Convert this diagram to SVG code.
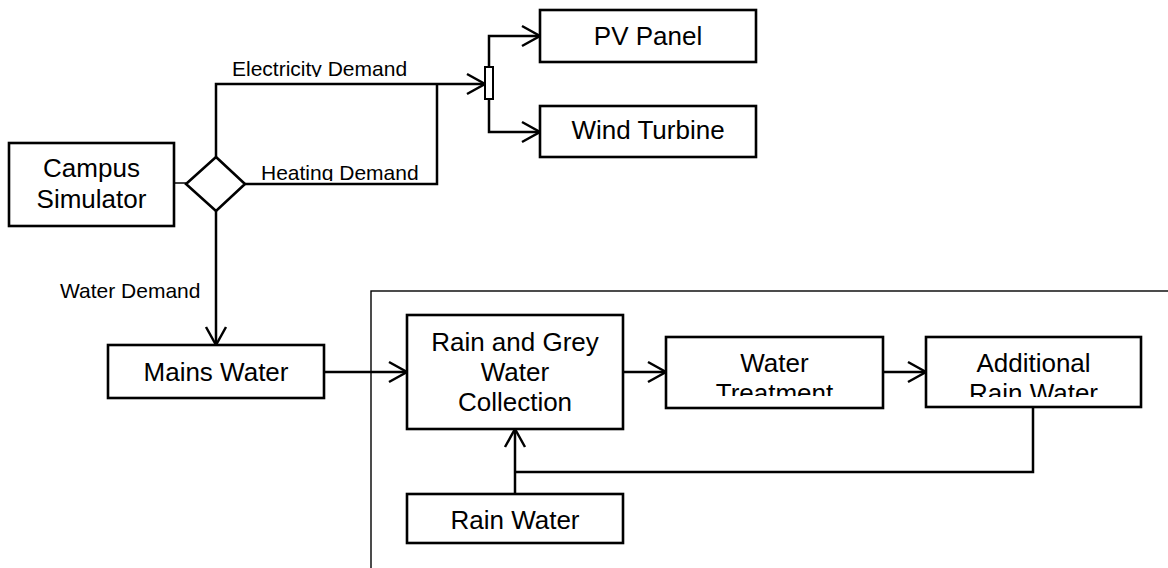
<svg xmlns="http://www.w3.org/2000/svg" width="1168" height="568" viewBox="0 0 1168 568">
<style>
.box{fill:#fff;stroke:#000;stroke-width:2.6}
.lbl{font-family:"Liberation Sans",Arial,sans-serif;font-size:26px;fill:#000;text-anchor:middle}
.edge{font-family:"Liberation Sans",Arial,sans-serif;font-size:21px;fill:#000}
.ln{fill:none;stroke:#000;stroke-width:2.5}
</style>
<defs>
<marker id="arr" markerUnits="userSpaceOnUse" markerWidth="22" markerHeight="24" viewBox="0 0 22 24" refX="19" refY="12" orient="auto">
<path d="M1,2 L19,12 L1,22" fill="none" stroke="#000" stroke-width="2.5"/>
</marker>
<clipPath id="cElec"><rect x="220" y="50" width="220" height="27"/></clipPath>
<clipPath id="cHeat"><rect x="250" y="150" width="186" height="31"/></clipPath>
<clipPath id="cWT"><rect x="668" y="339" width="213" height="57"/></clipPath>
<clipPath id="cARW"><rect x="928" y="339" width="211" height="58"/></clipPath>
</defs>
<rect id="container" x="371" y="291" width="820" height="300" fill="none" stroke="#000" stroke-width="1.4"/>
<g id="connectors">
<line x1="174" y1="183" x2="186" y2="183" stroke="#000" stroke-width="1.5"/>
<path class="ln" d="M216,157 V84 H485" marker-end="url(#arr)"/>
<path class="ln" d="M245,184 H437 V84"/>
<path class="ln" d="M489,67 V36 H540" marker-end="url(#arr)"/>
<path class="ln" d="M489,99 V132 H540" marker-end="url(#arr)"/>
<path class="ln" d="M216,211 V345" marker-end="url(#arr)"/>
<path class="ln" d="M324,372 H407" marker-end="url(#arr)"/>
<path class="ln" d="M623,372 H666" marker-end="url(#arr)"/>
<path class="ln" d="M883,372 H926" marker-end="url(#arr)"/>
<path class="ln" d="M515,494 V429" marker-end="url(#arr)"/>
<path class="ln" d="M1033,407 V472 H515"/>
<text class="edge" x="232" y="76" clip-path="url(#cElec)">Electricity Demand</text>
<text class="edge" x="261" y="180" clip-path="url(#cHeat)">Heating Demand</text>
<text class="edge" x="60" y="298">Water Demand</text>
</g>
<g id="splitter"><rect x="485" y="67" width="8" height="32" fill="#fff" stroke="#000" stroke-width="2"/></g>
<g id="decision"><polygon points="216,157 245,184 216,211 186,184" fill="#fff" stroke="#000" stroke-width="2.6"/></g>
<g id="campus">
<rect class="box" x="9" y="143" width="165" height="83"/>
<text class="lbl" x="91.5" y="177">Campus</text>
<text class="lbl" x="91.5" y="208">Simulator</text>
</g>
<g id="pv">
<rect class="box" x="540" y="10" width="216" height="52"/>
<text class="lbl" x="648" y="45">PV Panel</text>
</g>
<g id="wind">
<rect class="box" x="540" y="106" width="216" height="51"/>
<text class="lbl" x="648" y="139">Wind Turbine</text>
</g>
<g id="mains">
<rect class="box" x="108" y="345" width="216" height="53"/>
<text class="lbl" x="216" y="381">Mains Water</text>
</g>
<g id="collection">
<rect class="box" x="407" y="315" width="216" height="114"/>
<text class="lbl" x="515" y="351">Rain and Grey</text>
<text class="lbl" x="515" y="381">Water</text>
<text class="lbl" x="515" y="411">Collection</text>
</g>
<g id="treatment">
<rect class="box" x="666" y="337" width="217" height="71"/>
<g clip-path="url(#cWT)">
<text class="lbl" x="774.5" y="372">Water</text>
<text class="lbl" x="774.5" y="402">Treatment</text>
</g>
</g>
<g id="additional">
<rect class="box" x="926" y="337" width="215" height="70"/>
<g clip-path="url(#cARW)">
<text class="lbl" x="1033.5" y="372">Additional</text>
<text class="lbl" x="1033.5" y="402">Rain Water</text>
</g>
</g>
<g id="rainwater">
<rect class="box" x="407" y="494" width="216" height="49"/>
<text class="lbl" x="515" y="529">Rain Water</text>
</g>
</svg>
